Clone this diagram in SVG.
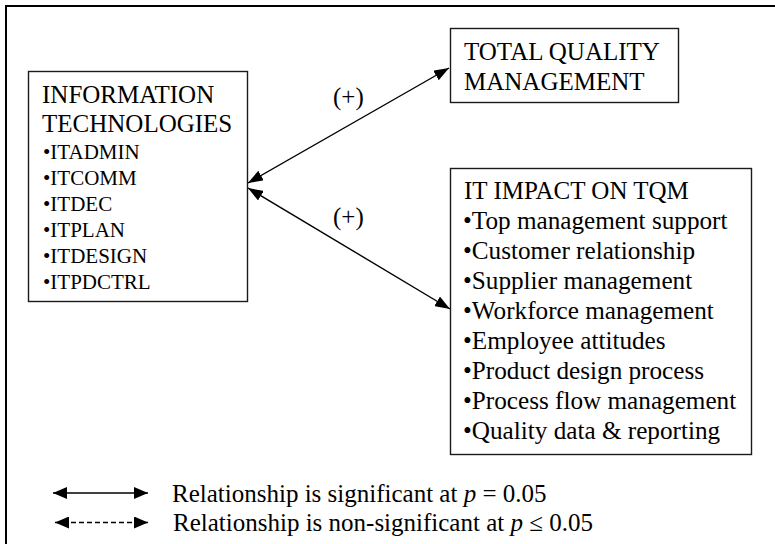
<svg xmlns="http://www.w3.org/2000/svg" width="775" height="544" viewBox="0 0 775 544">
<style>
text{font-family:"Liberation Serif","Times New Roman",serif;fill:#000}
.h{font-size:25px}
.b{font-size:21px}
.r{font-size:25.2px}
.box{fill:#fff;stroke:#1a1a1a;stroke-width:1.4}
.con{fill:none;stroke:#000;stroke-width:1.4}
</style>
<defs>
<marker id="ah" viewBox="0 0 15 11" refX="15" refY="5.5" markerWidth="15" markerHeight="11" markerUnits="userSpaceOnUse" orient="auto-start-reverse">
<path d="M0,0 L15,5.5 L0,11 z" fill="#000"/>
</marker>
<marker id="lh" viewBox="0 0 14 12" refX="14" refY="6" markerWidth="14" markerHeight="12" markerUnits="userSpaceOnUse" orient="auto-start-reverse">
<path d="M0,0 L14,6 L0,12 z" fill="#000"/>
</marker>
</defs>
<path d="M6,544 V6 H775" fill="none" stroke="#000" stroke-width="2"/>
<g id="it">
<rect class="box" x="28.5" y="71.5" width="219" height="230"/>
<text class="h" x="42" y="103">INFORMATION</text>
<text class="h" x="42" y="132">TECHNOLOGIES</text>
<text class="b" x="43" y="159">•ITADMIN</text>
<text class="b" x="43" y="185">•ITCOMM</text>
<text class="b" x="43" y="211">•ITDEC</text>
<text class="b" x="43" y="237">•ITPLAN</text>
<text class="b" x="43" y="263">•ITDESIGN</text>
<text class="b" x="43" y="289">•ITPDCTRL</text>
</g>
<g id="tqm">
<rect class="box" x="450.5" y="28.5" width="228" height="74"/>
<text class="h" x="464" y="60">TOTAL QUALITY</text>
<text class="h" x="464" y="90">MANAGEMENT</text>
</g>
<g id="impact">
<rect class="box" x="450.5" y="168.5" width="301" height="286"/>
<text class="h" x="464" y="199">IT IMPACT ON TQM</text>
<text class="r" x="463" y="229">•Top management support</text>
<text class="r" x="463" y="259">•Customer relationship</text>
<text class="r" x="463" y="289">•Supplier management</text>
<text class="r" x="463" y="319">•Workforce management</text>
<text class="r" x="463" y="349">•Employee attitudes</text>
<text class="r" x="463" y="379">•Product design process</text>
<text class="r" x="463" y="409">•Process flow management</text>
<text class="r" x="463" y="439">•Quality data &amp; reporting</text>
</g>
<g id="connectors">
<line class="con" x1="248" y1="183" x2="449" y2="68" marker-start="url(#ah)" marker-end="url(#ah)"/>
<line class="con" x1="248" y1="188" x2="450" y2="309" marker-start="url(#ah)" marker-end="url(#ah)"/>
<text class="h" x="333" y="105">(+)</text>
<text class="h" x="333" y="225">(+)</text>
</g>
<g id="legend">
<line class="con" x1="53" y1="493" x2="148" y2="493" stroke-width="1.6" marker-start="url(#lh)" marker-end="url(#lh)"/>
<line class="con" x1="55" y1="522.5" x2="148" y2="522.5" stroke-width="1.6" stroke-dasharray="5,3" marker-start="url(#lh)" marker-end="url(#lh)"/>
<text class="h" x="172" y="502">Relationship is significant at <tspan font-style="italic">p</tspan> = 0.05</text>
<text class="h" x="173" y="531">Relationship is non-significant at <tspan font-style="italic">p</tspan> ≤ 0.05</text>
</g>
</svg>
